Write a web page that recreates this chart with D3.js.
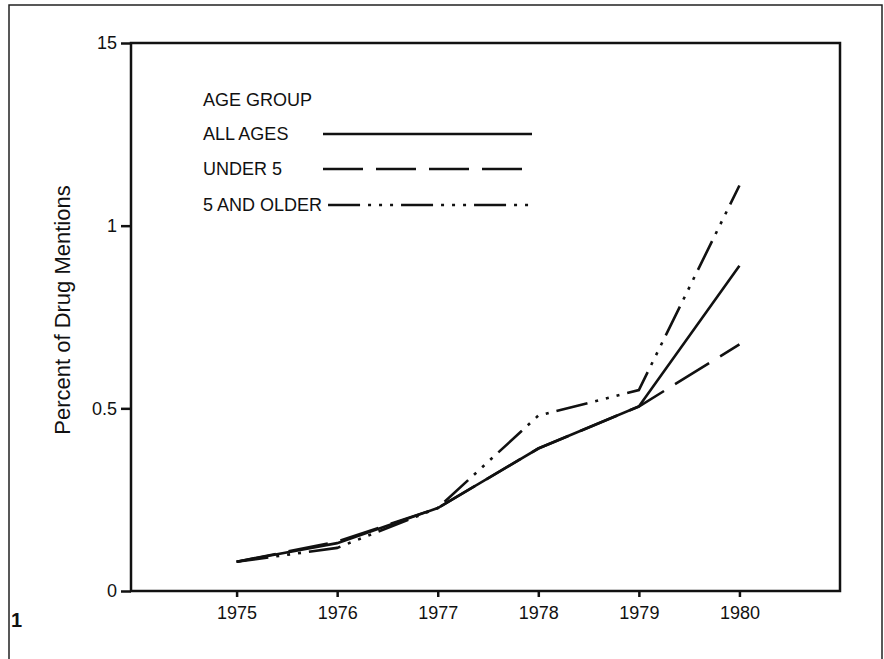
<!DOCTYPE html>
<html lang="en">
<head>
<meta charset="UTF-8">
<title>Percent of Drug Mentions</title>
<script src="https://d3js.org/d3.v7.min.js"></script>
<style>
  body { margin: 0; background: #fff; }
  svg { display: block; font-family: "Liberation Sans", Arial, sans-serif; }
</style>
</head>
<body>
<div id="chart"></div>
<script>
const years = [1975, 1976, 1977, 1978, 1979, 1980];
const allAges = [0.080, 0.131, 0.227, 0.390, 0.505, 0.890];
const under5 = [0.080, 0.135, 0.227, 0.390, 0.505, 0.675];
const fiveOlder = [0.080, 0.118, 0.227, 0.480, 0.550, 1.110];
const yTicks = [0, 0.5, 1, 1.5];
const yTickLabels = ['0', '0.5', '1', '15'];
const legendTitle = 'AGE GROUP';
const legendLabels = ['ALL AGES', 'UNDER 5', '5 AND OLDER'];

const width = 884, height = 659;
const plot = {left: 131, right: 840, top: 43, bottom: 591};

const svg = d3.select('#chart').append('svg')
    .attr('width', width)
    .attr('height', height);

// outer frame (bottom runs off the page)
svg.append('rect')
    .attr('x', 9).attr('y', 5)
    .attr('width', 873).attr('height', 700)
    .attr('fill', 'none')
    .attr('stroke', '#222')
    .attr('stroke-width', 1.5);

const x = d3.scaleLinear().domain([1973.95, 1981]).range([plot.left, plot.right]);
const y = d3.scaleLinear().domain([0, 1.5]).range([plot.bottom, plot.top]);

// plot box
svg.append('rect')
    .attr('x', plot.left).attr('y', plot.top)
    .attr('width', plot.right - plot.left)
    .attr('height', plot.bottom - plot.top)
    .attr('fill', 'none')
    .attr('stroke', '#111')
    .attr('stroke-width', 2.5);

const yAxis = svg.append('g')
    .attr('transform', `translate(${plot.left},0)`)
    .call(d3.axisLeft(y).tickValues(yTicks)
        .tickFormat((d, i) => yTickLabels[i])
        .tickSize(10).tickPadding(4));

const xAxis = svg.append('g')
    .attr('transform', `translate(0,${plot.bottom})`)
    .call(d3.axisBottom(x).tickValues(years)
        .tickFormat(d3.format('d'))
        .tickSize(6).tickPadding(9));

[yAxis, xAxis].forEach(g => {
    g.select('.domain').remove();
    g.selectAll('.tick line').attr('stroke', '#111').attr('stroke-width', 2.5);
    g.selectAll('.tick text')
        .attr('fill', '#111')
        .attr('font-size', 18)
        .attr('font-family', '"Liberation Sans", Arial, sans-serif');
});

svg.append('text')
    .attr('transform', 'translate(70,310) rotate(-90)')
    .attr('text-anchor', 'middle')
    .attr('font-size', 22)
    .attr('fill', '#111')
    .text('Percent of Drug Mentions');

svg.append('text')
    .attr('x', 11).attr('y', 627)
    .attr('font-size', 20)
    .attr('font-weight', 'bold')
    .attr('fill', '#111')
    .text('1');

const series = [
    {name: legendLabels[0], values: allAges, dash: null},
    {name: legendLabels[1], values: under5, dash: '40,13'},
    {name: legendLabels[2], values: fiveOlder, dash: '32,8,3,8,3,8,3,8'}
];

const line = d3.line()
    .x((d, i) => x(years[i]))
    .y(d => y(d));

svg.selectAll('path.series')
    .data(series)
    .enter().append('path')
    .attr('class', 'series')
    .attr('d', d => line(d.values))
    .attr('fill', 'none')
    .attr('stroke', '#111')
    .attr('stroke-width', 2.6)
    .attr('stroke-dasharray', d => d.dash);

// legend
const legendX = 203, legendEnd = 532;
const legendY = [134, 169, 205];

svg.append('text')
    .attr('x', legendX).attr('y', 100)
    .attr('dy', '0.35em')
    .attr('font-size', 18)
    .attr('fill', '#111')
    .text(legendTitle);

series.forEach((s, i) => {
    const t = svg.append('text')
        .attr('x', legendX).attr('y', legendY[i])
        .attr('dy', '0.35em')
        .attr('font-size', 18)
        .attr('fill', '#111')
        .text(s.name);
    const start = Math.max(legendX + t.node().getComputedTextLength() + 6, 323);
    svg.append('line')
        .attr('x1', start).attr('x2', legendEnd)
        .attr('y1', legendY[i]).attr('y2', legendY[i])
        .attr('stroke', '#111')
        .attr('stroke-width', 2.4)
        .attr('stroke-dasharray', s.dash);
});
</script>
</body>
</html>
